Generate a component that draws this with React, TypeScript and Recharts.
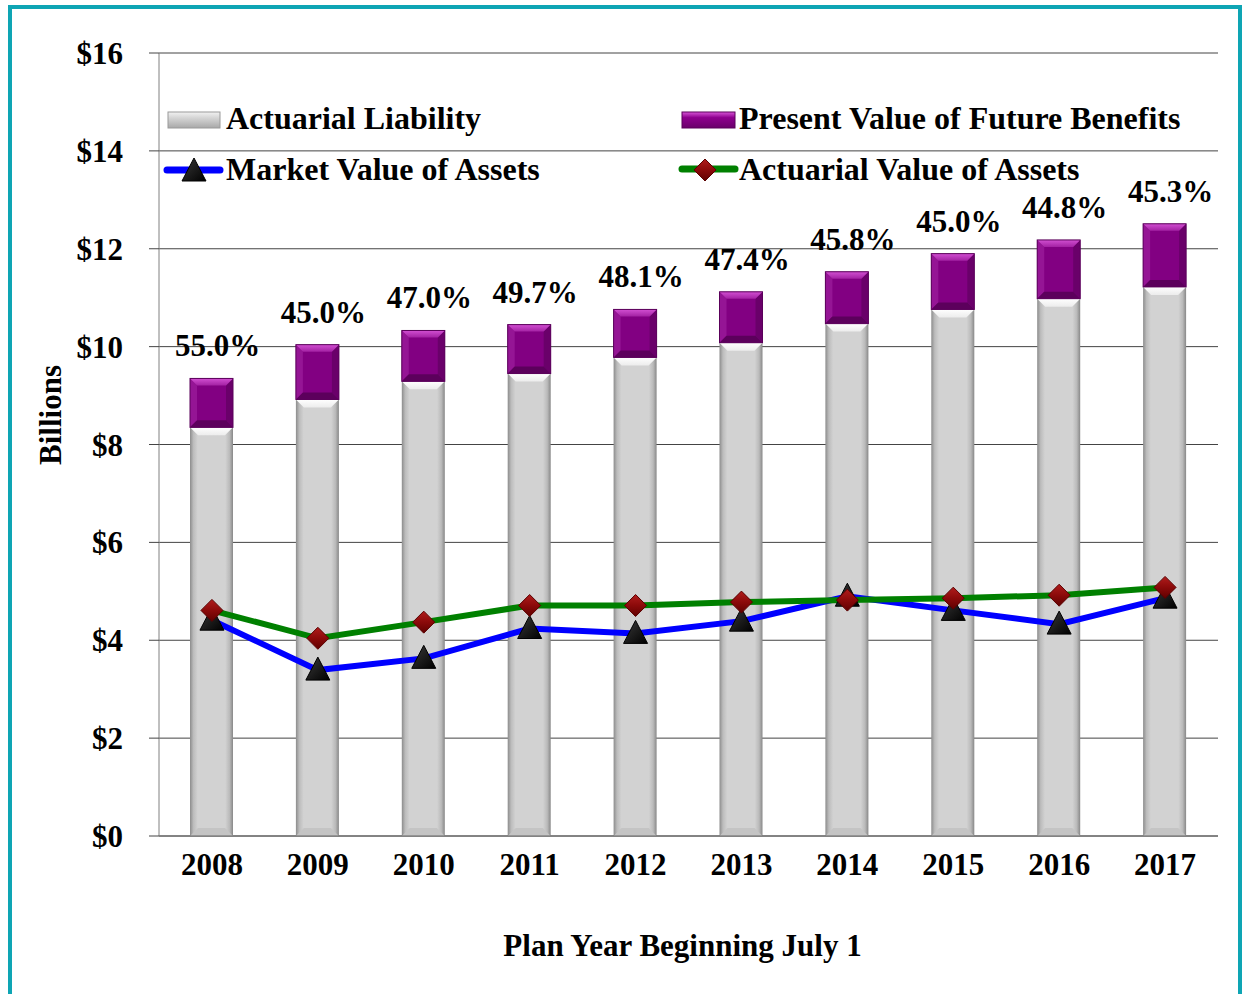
import { ComposedChart, Bar, Line, XAxis, YAxis, CartesianGrid, Legend, LabelList, Label } from 'recharts';

const years = ['2008', '2009', '2010', '2011', '2012', '2013', '2014', '2015', '2016', '2017'];
const actuarialLiability = [8.35, 8.92, 9.29, 9.45, 9.78, 10.08, 10.47, 10.76, 10.98, 11.22];
const presentValueFutureBenefits = [9.35, 10.04, 10.33, 10.45, 10.76, 11.12, 11.53, 11.9, 12.18, 12.51];
const marketValueAssets = [4.41, 3.39, 3.63, 4.24, 4.14, 4.39, 4.9, 4.61, 4.33, 4.86];
const actuarialValueAssets = [4.61, 4.04, 4.37, 4.71, 4.71, 4.78, 4.82, 4.86, 4.92, 5.08];
const fundedRatios = ['55.0%', '45.0%', '47.0%', '49.7%', '48.1%', '47.4%', '45.8%', '45.0%', '44.8%', '45.3%'];
const yTicks = [0, 2, 4, 6, 8, 10, 12, 14, 16];

// stacked bars: gray = liability, purple = the rest up to PVFB
const data = years.map((year, i) => ({
  year,
  al: actuarialLiability[i],
  pvfbExtra: presentValueFutureBenefits[i] - actuarialLiability[i],
  mv: marketValueAssets[i],
  av: actuarialValueAssets[i],
  ratio: fundedRatios[i],
}));

const FONT = '"Liberation Serif", "Times New Roman", serif';
const textStyle = { fontFamily: FONT, fontWeight: 'bold' as const, fill: '#000' };

const GrayBar = (props: any) => {
  const { x, y, width, height } = props;
  if (!height || height <= 0) return null;
  const b = 8;
  return (
    <g>
      <rect x={x} y={y} width={width} height={height} fill="url(#alBody)" />
      <polygon points={`${x},${y} ${x + width},${y} ${x + width - b},${y + b} ${x + b},${y + b}`} fill="url(#alTop)" />
      <polygon
        points={`${x},${y + height} ${x + b},${y + height - b} ${x + width - b},${y + height - b} ${x + width},${y + height}`}
        fill="#c4c4c4"
      />
    </g>
  );
};

const PurpleBar = (props: any) => {
  const { x, y, width, height } = props;
  if (!height || height <= 0) return null;
  const b = 7;
  return (
    <g>
      <rect x={x} y={y} width={width} height={height} fill="#820082" />
      <polygon points={`${x},${y} ${x + b},${y + b} ${x + b},${y + height - b} ${x},${y + height}`} fill="#951595" />
      <polygon
        points={`${x + width},${y} ${x + width - b},${y + b} ${x + width - b},${y + height - b} ${x + width},${y + height}`}
        fill="#6a006a"
      />
      <polygon points={`${x},${y} ${x + width},${y} ${x + width - b},${y + b} ${x + b},${y + b}`} fill="url(#pvTop)" />
      <polygon
        points={`${x},${y + height} ${x + b},${y + height - b} ${x + width - b},${y + height - b} ${x + width},${y + height}`}
        fill="#5c005c"
      />
      <rect x={x} y={y} width={width} height={height} fill="none" stroke="#5a005a" strokeWidth={1} />
    </g>
  );
};

const TriangleDot = (props: any) => {
  const { cx, cy } = props;
  if (cx == null || cy == null) return null;
  return (
    <polygon
      points={`${cx},${cy - 13} ${cx + 12},${cy + 10} ${cx - 12},${cy + 10}`}
      fill="url(#triFill)"
      stroke="#000"
      strokeWidth={1}
    />
  );
};

const DiamondDot = (props: any) => {
  const { cx, cy } = props;
  if (cx == null || cy == null) return null;
  return (
    <polygon
      points={`${cx},${cy - 11} ${cx + 11},${cy} ${cx},${cy + 11} ${cx - 11},${cy}`}
      fill="url(#diaFill)"
      stroke="#5a0000"
      strokeWidth={1}
    />
  );
};

const RatioLabel = (props: any) => {
  const { x, y, width, value } = props;
  return (
    <text x={x + width / 2 + 6} y={y - 22} textAnchor="middle" fontSize={31} {...textStyle}>
      {value}
    </text>
  );
};

const LegendBlock = () => (
  <svg width={1242} height={200} style={{ position: 'absolute', left: 0, top: 0 }}>
    <defs>
      <linearGradient id="lgGray" x1="0" y1="0" x2="0" y2="1">
        <stop offset="0" stopColor="#f2f2f2" />
        <stop offset="0.35" stopColor="#d6d6d6" />
        <stop offset="1" stopColor="#a8a8a8" />
      </linearGradient>
      <linearGradient id="lgPurple" x1="0" y1="0" x2="0" y2="1">
        <stop offset="0" stopColor="#d855d8" />
        <stop offset="0.35" stopColor="#8e008e" />
        <stop offset="1" stopColor="#6a006a" />
      </linearGradient>
    </defs>
    <rect x={168} y={112} width={52} height={16} fill="url(#lgGray)" stroke="#9a9a9a" />
    <text x={226} y={129} fontSize={32} {...textStyle}>Actuarial Liability</text>

    <rect x={682} y={112} width={53} height={16} fill="url(#lgPurple)" stroke="#5a005a" />
    <text x={739} y={129} fontSize={32} {...textStyle}>Present Value of Future Benefits</text>

    <line x1={167} y1={170} x2={220} y2={170} stroke="#0000ff" strokeWidth={7} strokeLinecap="round" />
    <TriangleDot cx={194} cy={171} />
    <text x={226} y={180} fontSize={32} {...textStyle}>Market Value of Assets</text>

    <line x1={682} y1={169} x2={735} y2={169} stroke="#008000" strokeWidth={7} strokeLinecap="round" />
    <DiamondDot cx={705} cy={170} />
    <text x={739} y={180} fontSize={32} {...textStyle}>Actuarial Value of Assets</text>
  </svg>
);

export default function App() {
  return (
    <div style={{ position: 'absolute', left: 0, top: 0, width: 1242, height: 994, background: '#fff' }}>
      <div
        style={{
          position: 'absolute',
          left: 8,
          top: 5,
          width: 1234,
          height: 994,
          border: '4px solid #0ea5b4',
          boxSizing: 'border-box',
        }}
      />
      <div style={{ position: 'absolute', left: 0, top: 0 }}>
        <ComposedChart width={1242} height={994} data={data} margin={{ top: 53, right: 24, bottom: 0, left: 0 }}>
          <defs>
            <linearGradient id="alBody" x1="0" y1="0" x2="1" y2="0">
              <stop offset="0" stopColor="#8c8c8c" />
              <stop offset="0.08" stopColor="#bcbcbc" />
              <stop offset="0.18" stopColor="#d2d2d2" />
              <stop offset="0.82" stopColor="#d2d2d2" />
              <stop offset="0.92" stopColor="#bababa" />
              <stop offset="1" stopColor="#888888" />
            </linearGradient>
            <linearGradient id="alTop" x1="0" y1="0" x2="0" y2="1">
              <stop offset="0" stopColor="#ffffff" />
              <stop offset="1" stopColor="#ececec" />
            </linearGradient>
            <linearGradient id="pvTop" x1="0" y1="0" x2="0" y2="1">
              <stop offset="0" stopColor="#d24fd2" />
              <stop offset="1" stopColor="#a322a3" />
            </linearGradient>
            <linearGradient id="triFill" x1="0" y1="0" x2="1" y2="1">
              <stop offset="0" stopColor="#3a3a3a" />
              <stop offset="1" stopColor="#000000" />
            </linearGradient>
            <linearGradient id="diaFill" x1="0" y1="0" x2="0" y2="1">
              <stop offset="0" stopColor="#b01c1c" />
              <stop offset="0.5" stopColor="#8b0a0a" />
              <stop offset="1" stopColor="#600000" />
            </linearGradient>
          </defs>
          <CartesianGrid vertical={false} stroke="#444" />
          <XAxis
            dataKey="year"
            height={158}
            tickLine={false}
            tickSize={0}
            tickMargin={17}
            axisLine={{ stroke: '#666' }}
            tick={{ ...textStyle, fontSize: 31 }}
            interval={0}
          >
            <Label
              content={(p: any) => {
                const vb = p.viewBox || { x: 159, width: 1059 };
                return (
                  <text x={vb.x + vb.width / 2 - 6} y={956} textAnchor="middle" fontSize={31} {...textStyle}>
                    Plan Year Beginning July 1
                  </text>
                );
              }}
            />
          </XAxis>
          <YAxis
            width={159}
            domain={[0, 16]}
            ticks={yTicks}
            tickFormatter={(v: number) => `$${v}`}
            tickSize={10}
            tickMargin={26}
            tickLine={{ stroke: '#444' }}
            axisLine={{ stroke: '#808080' }}
            tick={{ ...textStyle, fontSize: 31 }}
          >
            <Label
              content={() => (
                <text x={61} y={415} transform="rotate(-90 61 415)" textAnchor="middle" fontSize={31} {...textStyle}>
                  Billions
                </text>
              )}
            />
          </YAxis>
          <Legend
            layout="horizontal"
            verticalAlign="middle"
            align="center"
            wrapperStyle={{ position: 'absolute', left: 0, top: 0, width: 1242, height: 0 }}
            content={() => <LegendBlock />}
          />
          <Bar dataKey="al" stackId="b" barSize={43} shape={GrayBar} isAnimationActive={false} />
          <Bar dataKey="pvfbExtra" stackId="b" barSize={43} shape={PurpleBar} isAnimationActive={false}>
            <LabelList dataKey="ratio" content={RatioLabel} />
          </Bar>
          <Line
            type="linear"
            dataKey="mv"
            stroke="#0000ff"
            strokeWidth={6}
            dot={TriangleDot}
            activeDot={false}
            isAnimationActive={false}
          />
          <Line
            type="linear"
            dataKey="av"
            stroke="#008000"
            strokeWidth={6}
            dot={DiamondDot}
            activeDot={false}
            isAnimationActive={false}
          />
        </ComposedChart>
      </div>
    </div>
  );
}
